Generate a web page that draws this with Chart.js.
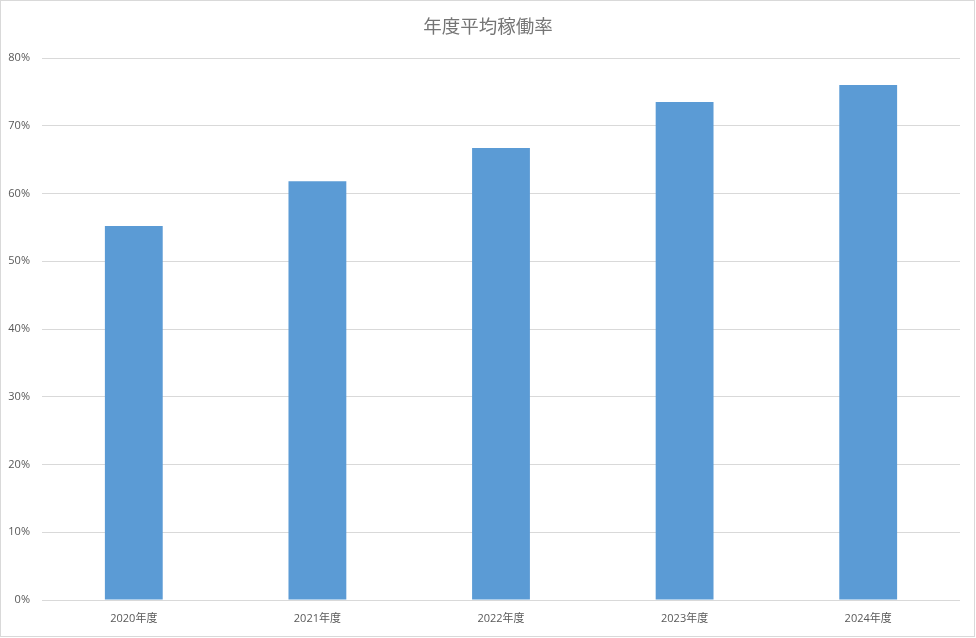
<!DOCTYPE html>
<html>
<head>
<meta charset="utf-8">
<script src="https://cdn.jsdelivr.net/npm/chart.js@4"></script>
<style>
  html, body { margin: 0; padding: 0; background: #ffffff; }
  #wrap { width: 976px; height: 638px; position: relative; }
</style>
</head>
<body>
<div id="wrap"><canvas id="c" width="976" height="638"></canvas></div>
<script>
const categories = ["2020年度", "2021年度", "2022年度", "2023年度", "2024年度"];
const utilization = [55.2, 61.8, 66.7, 73.5, 76.0];
const chartTitle = "年度平均稼働率";
const yMax = 80;
const yStep = 10;

const FONT = '"Open Sans", "Noto Sans CJK JP", sans-serif';

const framePlugin = {
  id: 'frame',
  afterDraw(chart) {
    const ctx = chart.ctx;
    ctx.save();
    ctx.strokeStyle = '#d9d9d9';
    ctx.lineWidth = 1;
    ctx.strokeRect(0.5, 0.5, 974, 636);
    ctx.restore();
  }
};

new Chart(document.getElementById('c'), {
  type: 'bar',
  data: {
    labels: categories,
    datasets: [{
      label: chartTitle,
      data: utilization,
      backgroundColor: '#5b9bd5',
      borderWidth: 0,
      categoryPercentage: 1.0,
      barPercentage: 0.315
    }]
  },
  options: {
    responsive: false,
    animation: false,
    devicePixelRatio: 1,
    layout: { padding: { left: 0, right: 0, top: 0, bottom: 0 } },
    plugins: {
      legend: { display: false },
      tooltip: { enabled: false },
      title: {
        display: true,
        text: chartTitle,
        color: '#757575',
        font: { family: '"Noto Sans CJK JP", sans-serif', size: 18.5, weight: 'normal', lineHeight: 1.2 },
        padding: { top: 15, bottom: 20.8 }
      }
    },
    scales: {
      x: {
        grid: { display: false },
        border: { display: false },
        ticks: {
          color: '#595959',
          font: { family: FONT, size: 11 },
          padding: 4,
          maxRotation: 0
        },
        afterFit(scale) { scale.height = 38; }
      },
      y: {
        min: 0,
        max: yMax,
        grid: { color: '#d9d9d9', drawTicks: false, lineWidth: 1 },
        border: { display: false },
        ticks: {
          stepSize: yStep,
          color: '#595959',
          font: { family: FONT, size: 11 },
          padding: 12,
          callback: (v) => v + '%'
        },
        afterFit(scale) { scale.width = 42; }
      },
      yRightSpace: {
        type: 'linear',
        position: 'right',
        display: true,
        grid: { display: false, drawTicks: false },
        border: { display: false },
        ticks: { display: false },
        afterFit(scale) { scale.width = 16; }
      }
    }
  },
  plugins: [framePlugin]
});
</script>
</body>
</html>
